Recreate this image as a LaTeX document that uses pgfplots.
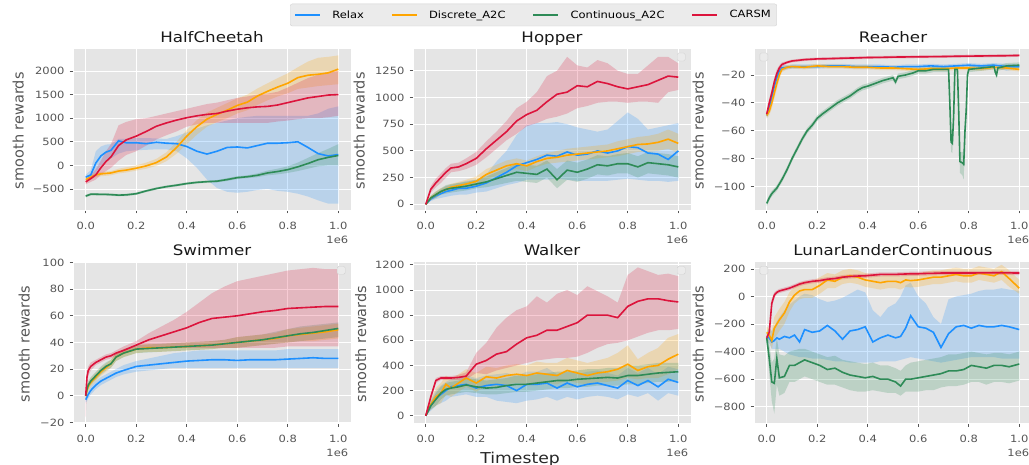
\documentclass[border=0pt]{standalone}
\usepackage{pgfplots}
\pgfplotsset{compat=1.18}
\usepackage{pgfplotstable}
\usepgfplotslibrary{fillbetween}
\usepackage{fontspec}
\setmainfont{DejaVu Sans}[FakeStretch=1.15]
\newfontfamily\plainfont{DejaVu Sans}
\definecolor{ggbg}{HTML}{E5E5E5}
\definecolor{ggtext}{HTML}{555555}
\definecolor{cRelax}{RGB}{30,144,255}
\definecolor{cDisc}{RGB}{255,165,0}
\definecolor{cCont}{RGB}{46,139,87}
\definecolor{cCarsm}{RGB}{220,20,60}
\definecolor{legfill}{HTML}{EBEBEB}
\definecolor{legedge}{HTML}{D2D2D2}
\newcommand\ticksize{\fontsize{10}{12}\selectfont}
\newcommand\titlesize{\fontsize{14.5}{16}\selectfont}
\newcommand\ylabfont{\plainfont\fontsize{14.5}{16}\selectfont}

% columns: x, Relax (b), Discrete (o), Continuous (g), CARSM (r); m=mean, l=low, h=high
\pgfplotstableread{
x bm bl bh om ol oh gm gl gh rm rl rh
0 -250 -300 -200 -300 -350 -250 -650 -680 -620 -350 -400 -300
0.02 -200 -280 -100 -250 -300 -200 -610 -640 -590 -280 -350 -200
0.04 50 -150 300 -200 -250 -160 -610 -640 -590 -200 -300 -80
0.06 200 0 400 -180 -230 -140 -615 -640 -590 -50 -200 100
0.08 280 80 440 -170 -220 -130 -615 -640 -590 80 -120 300
0.10 320 150 450 -160 -210 -120 -620 -645 -595 180 -50 450
0.13 520 250 560 -120 -170 -70 -630 -655 -605 420 100 850
0.16 480 300 560 -100 -150 -40 -625 -650 -600 540 220 920
0.20 480 320 580 -60 -110 0 -600 -625 -575 620 300 980
0.24 460 330 580 -10 -70 60 -540 -565 -515 720 420 1000
0.28 490 340 570 60 -10 140 -490 -515 -465 830 550 1050
0.32 470 340 560 180 90 280 -450 -475 -425 900 640 1100
0.36 460 300 620 380 250 500 -420 -445 -395 960 720 1150
0.40 400 150 700 620 450 750 -385 -410 -360 1010 820 1200
0.44 300 -50 780 820 650 960 -360 -385 -335 1050 870 1250
0.48 240 -300 850 980 820 1120 -345 -370 -320 1080 900 1300
0.52 300 -480 900 1080 920 1220 -335 -360 -310 1100 900 1330
0.56 380 -560 950 1170 1000 1320 -300 -330 -270 1150 900 1380
0.60 390 -580 1000 1270 1100 1420 -260 -290 -230 1190 900 1430
0.64 370 -560 1030 1340 1170 1500 -240 -270 -210 1220 900 1460
0.68 420 -520 1050 1470 1280 1630 -210 -250 -170 1240 900 1500
0.72 470 -500 1050 1570 1380 1740 -160 -210 -110 1250 900 1520
0.76 470 -540 1050 1660 1460 1850 -130 -190 -70 1280 930 1560
0.80 480 -560 1050 1740 1530 1950 -90 -160 -20 1330 950 1650
0.84 500 -600 1050 1860 1620 2080 -30 -120 60 1380 980 1750
0.88 380 -660 1050 1910 1650 2200 40 -70 160 1430 1000 1850
0.92 250 -740 1100 1930 1680 2280 120 -20 260 1460 1000 1920
0.96 200 -810 1200 1960 1700 2300 170 0 350 1490 1020 1980
1.00 230 -810 1250 2040 1720 2330 210 0 450 1500 1050 2000
}\cheetah

\pgfplotstableread{
x bm bl bh om ol oh gm gl gh rm rl rh
0 0 0 0 0 0 0 0 0 0 0 0 0
0.02 50 30 70 60 40 80 60 40 80 140 110 170
0.04 80 50 110 90 60 120 90 60 120 200 160 240
0.06 100 60 140 120 90 150 120 90 150 250 200 290
0.08 120 70 170 140 110 170 140 100 180 300 250 340
0.10 130 80 180 160 130 190 150 110 190 340 300 380
0.13 150 90 200 175 140 210 160 120 200 350 310 390
0.16 150 90 220 190 150 230 170 130 210 380 330 430
0.20 170 110 230 215 170 260 190 150 230 430 370 490
0.24 200 120 280 280 230 330 210 160 260 520 440 590
0.28 250 150 400 320 270 370 240 180 300 600 520 680
0.32 300 180 500 360 310 410 270 200 340 680 600 780
0.36 360 200 650 380 330 430 300 220 380 780 660 900
0.40 390 230 740 360 310 410 290 210 370 840 730 960
0.44 420 230 760 400 350 450 280 200 360 880 760 1050
0.48 460 230 760 430 380 480 330 250 410 960 800 1200
0.52 450 240 770 440 390 500 230 150 330 1030 820 1250
0.56 490 230 750 460 400 520 320 230 410 1050 850 1380
0.60 460 220 720 470 410 530 300 210 390 1110 900 1300
0.64 470 220 700 480 420 540 330 240 420 1100 920 1280
0.68 500 220 680 490 430 550 370 280 460 1150 950 1350
0.72 480 220 700 500 440 560 360 270 450 1130 960 1320
0.76 500 230 780 520 450 590 380 290 470 1100 960 1250
0.80 540 240 860 540 470 610 380 290 480 1080 950 1220
0.84 530 230 800 560 490 630 350 250 450 1100 960 1220
0.88 480 220 700 565 490 640 390 290 490 1120 960 1300
0.92 470 220 720 580 500 660 380 280 480 1160 950 1380
0.96 420 210 740 610 520 700 370 270 470 1200 1050 1380
1.00 500 220 760 570 480 660 350 250 450 1190 1070 1320
}\hopper

\pgfplotstableread{
x bm bl bh om ol oh rm rl rh
0 -49 -51 -47 -49 -51 -47 -48 -50 -46
0.01 -44 -47 -41 -46 -49 -43 -40 -43 -37
0.02 -36 -40 -32 -40 -44 -36 -33 -36 -30
0.03 -28 -32 -24 -33 -37 -29 -25 -28 -22
0.04 -22 -26 -18 -26 -30 -22 -19 -22 -16
0.05 -17 -20 -14 -20 -23 -17 -15 -17 -13
0.06 -15 -17 -13 -16 -18 -14 -12.5 -14 -11
0.08 -14.5 -16 -13 -14.5 -16 -13 -11 -12 -10
0.10 -14 -15.5 -12.5 -14 -15.5 -12.5 -10 -11 -9
0.15 -14 -15.5 -12.5 -14.5 -16 -13 -9 -10 -8
0.20 -14 -15.5 -12.5 -13.5 -15 -12 -8.5 -9.5 -7.5
0.25 -13.5 -15 -12 -14 -15.5 -12.5 -8.3 -9.3 -7.3
0.30 -13.5 -15 -12 -14 -15.5 -12.5 -8 -9 -7
0.35 -14 -15.5 -12.5 -14.5 -16 -13 -7.8 -8.8 -6.8
0.40 -14 -15.5 -12.5 -14.5 -16 -13 -7.5 -8.5 -6.5
0.45 -14 -15.5 -12.5 -15 -16.5 -13.5 -7.4 -8.4 -6.4
0.50 -14.5 -16 -13 -15 -16.5 -13.5 -7.2 -8.2 -6.2
0.55 -14 -15.5 -12.5 -15.5 -17 -14 -7.1 -8.1 -6.1
0.60 -14 -15.5 -12.5 -16 -17.5 -14.5 -7 -8 -6
0.65 -13.5 -15 -12 -15.5 -17 -14 -6.9 -7.9 -5.9
0.70 -14 -15.5 -12.5 -15.5 -17 -14 -6.8 -7.8 -5.8
0.75 -13.5 -15 -12 -15 -16.5 -13.5 -6.6 -7.6 -5.6
0.80 -13 -14.5 -11.5 -15 -16.5 -13.5 -6.5 -7.5 -5.5
0.85 -13.5 -15 -12 -15.5 -17 -14 -6.4 -7.4 -5.4
0.90 -13 -14.5 -11.5 -14.5 -16 -13 -6.3 -7.3 -5.3
0.95 -14 -17 -12 -15 -16.5 -13.5 -6.2 -7.2 -5.2
1.00 -14 -15.5 -12.5 -16 -17.5 -14.5 -6 -7 -5
}\reacher

\pgfplotstableread{
x gm gl gh
0 -112 -114 -110
0.01 -108 -110 -106
0.02 -105 -107 -103
0.04 -101 -103 -99
0.06 -95 -97 -93
0.08 -88 -90 -86
0.10 -80 -82 -78
0.12 -73 -75 -71
0.14 -66 -68 -64
0.16 -60 -62 -58
0.18 -56 -58 -54
0.20 -51 -53 -49
0.22 -48 -50 -46
0.25 -44 -46 -42
0.28 -40 -42 -38
0.30 -38 -40 -36
0.33 -35 -37 -33
0.36 -31 -33 -29
0.38 -29 -31 -27
0.40 -28 -30 -26
0.43 -26 -28 -24
0.46 -24 -26 -22
0.50 -22 -24 -20
0.51 -25 -27 -23
0.52 -21 -23 -19
0.55 -20 -22 -18
0.58 -18.5 -20.5 -16.5
0.60 -17 -19 -15
0.63 -17 -19 -15
0.66 -16 -18 -14
0.70 -16 -18 -14
0.72 -16 -18 -14
0.725 -40 -45 -35
0.73 -68 -75 -62
0.735 -69 -76 -62
0.74 -50 -55 -45
0.745 -16 -18 -14
0.755 -16 -18 -14
0.76 -45 -50 -40
0.765 -82 -90 -75
0.775 -83 -92 -75
0.78 -84 -95 -75
0.785 -60 -66 -54
0.79 -45 -50 -40
0.795 -20 -23 -17
0.80 -16 -18 -14
0.85 -15 -17 -13
0.90 -14 -16 -12
0.905 -18 -20 -16
0.91 -20 -22 -18
0.915 -15 -17 -13
0.95 -13.5 -15.5 -11.5
1.00 -13 -15 -11
}\reacherg

\pgfplotstableread{
x bm bl bh om ol oh gm gl gh rm rl rh
0 -3 -5 -1 0 -2 2 0 -2 2 0 -16 4
0.005 -1 -4 2 4 1 7 5 2 8 14 8 18
0.01 1 -2 4 7 4 10 8 5 11 19 15 22
0.02 4 1 7 10 7 13 11 8 14 22 19 25
0.04 8 5 11 14 11 17 15 12 18 25 23 27
0.06 11 8 14 18 15 21 19 16 22 27 25 29
0.08 13 10 16 21 18 24 22 19 25 29 27 31
0.10 15 12 18 24 21 27 24 21 27 30 28 32
0.12 17 14 20 29 26 32 29 26 32 32 30 34
0.15 19 16 23 32 29 35 32 29 35 34 32 37
0.20 22 18 26 35 32 38 35 32 38 38 35 41
0.25 23 19 28 36 33 39 35.5 32.5 38.5 42 36 47
0.30 24 20 30 36 33 39 36 33 39 45 36 52
0.35 25 21 32 36.5 33.5 39.5 36.5 33.5 39.5 48 36 57
0.40 26 21 33 37 34 40 37 34 40 51 36 63
0.45 26.5 21 34 37.5 34.5 40.5 37.5 34.5 40.5 55 36 70
0.50 27 21 34 38 35 41 38 35 41 58 36 77
0.55 27 21 34 39 36 42 39 36 42 59 36 82
0.60 26.5 21 34 40 36 44 40 36 44 60 36 86
0.65 27 21 34 41 37 45 41 37 45 61.5 36 88
0.70 27 21 34 42 38 46 42 38 46 63 36 90
0.75 27 21 34 43 39 47 43.5 39 48 64 36 92
0.80 27.5 21 35 45 40 50 45 40 50 65.5 37 94
0.85 28 21 35 46 41 51 46.5 41 52 66 37 95
0.90 28.5 21 35 47 41 52 47.5 42 53 66.5 37 96
0.95 28 21 35 48 42 53 49 43 54 67 37 95
1.00 28 21 35 49.5 43 54 50.5 44 55 67 37 95
}\swimmer

\pgfplotstableread{
x bm bl bh om ol oh gm gl gh rm rl rh
0 0 0 0 0 0 0 0 0 0 0 0 0
0.02 80 40 120 90 50 130 80 50 110 150 130 170
0.04 140 80 200 150 80 220 130 80 180 280 260 300
0.06 170 100 240 180 100 260 180 130 230 300 285 315
0.08 200 120 270 250 170 320 210 160 260 300 285 315
0.10 230 150 290 220 150 290 220 170 270 300 285 315
0.13 240 160 300 260 190 330 230 180 280 305 285 325
0.16 250 170 320 300 230 370 245 190 300 315 290 345
0.20 220 150 300 260 190 340 230 180 290 410 340 500
0.24 240 150 320 310 240 390 220 170 280 440 330 580
0.28 250 120 330 300 230 380 225 170 290 490 360 700
0.32 240 110 340 320 250 400 240 180 300 510 380 780
0.36 200 100 320 330 260 410 250 190 320 570 400 840
0.40 250 120 350 320 250 400 250 190 320 620 420 870
0.44 250 130 350 340 270 430 260 200 330 640 440 950
0.48 260 150 380 330 260 420 270 210 340 680 450 900
0.52 220 120 330 320 250 420 280 220 350 680 460 970
0.56 260 150 360 360 280 460 280 220 350 710 460 1000
0.60 230 130 330 340 260 440 290 230 360 740 470 960
0.64 250 150 350 320 250 420 295 230 370 800 500 1030
0.68 260 160 360 340 270 440 300 240 370 800 540 990
0.72 240 150 340 350 270 460 305 240 380 800 570 950
0.76 220 130 320 370 280 500 300 240 380 780 580 900
0.80 280 170 380 410 300 560 320 250 400 870 600 1120
0.84 240 150 340 360 290 450 320 250 400 910 630 1180
0.88 280 180 380 390 300 500 330 260 410 930 660 1150
0.92 230 120 330 400 300 540 340 270 420 930 680 1120
0.96 290 180 390 450 330 620 345 270 420 915 680 1130
1.00 265 160 370 490 370 650 350 280 420 905 690 1110
}\walker

\pgfplotstableread{
x bm bl bh om ol oh gm gl gh rm rl rh
0 -290 -330 -250 -260 -300 -220 -300 -340 -260 -300 -320 -280
0.01 -300 -340 -240 -280 -330 -230 -450 -560 -340 -260 -285 -235
0.02 -330 -380 -250 -320 -380 -250 -620 -760 -480 -50 -80 -20
0.03 -320 -380 -220 -230 -300 -150 -630 -850 -450 10 -10 30
0.04 -300 -380 -180 -200 -280 -120 -450 -640 -300 30 15 45
0.05 -310 -380 -150 -170 -250 -90 -590 -720 -420 40 25 55
0.07 -290 -400 -100 -120 -200 -40 -580 -700 -430 50 35 65
0.09 -300 -420 -60 -40 -110 30 -500 -620 -400 60 45 75
0.11 -280 -430 -30 10 -50 70 -500 -620 -390 75 60 90
0.13 -330 -440 0 40 -20 100 -480 -600 -380 90 75 105
0.15 -240 -440 20 50 -10 110 -460 -580 -380 100 85 115
0.18 -260 -450 10 50 -10 110 -480 -600 -400 110 95 125
0.21 -250 -450 -20 80 20 140 -500 -620 -420 115 100 130
0.24 -210 -460 -40 120 60 170 -530 -640 -440 125 110 140
0.27 -250 -470 -30 110 60 160 -520 -640 -430 130 115 145
0.30 -310 -470 -10 140 90 190 -550 -660 -460 140 125 155
0.33 -250 -480 20 150 100 200 -570 -680 -470 145 130 160
0.36 -240 -480 50 140 90 190 -580 -690 -480 148 133 163
0.39 -220 -480 30 120 70 170 -590 -690 -490 150 135 165
0.42 -330 -480 -100 110 60 160 -580 -680 -480 155 140 170
0.45 -300 -470 -150 100 50 150 -600 -690 -500 160 145 175
0.48 -280 -470 -80 110 60 160 -600 -700 -500 160 145 175
0.51 -300 -470 -50 110 60 160 -620 -700 -520 160 145 175
0.53 -290 -460 0 100 50 150 -650 -720 -540 162 147 177
0.55 -230 -450 80 120 70 170 -600 -690 -500 163 148 178
0.57 -140 -440 100 115 65 165 -600 -690 -480 165 150 180
0.60 -220 -450 0 120 70 170 -590 -690 -470 165 150 180
0.63 -230 -460 -50 130 80 180 -580 -680 -460 167 152 182
0.66 -260 -470 -150 140 90 190 -570 -680 -450 168 153 183
0.69 -370 -480 -200 140 90 190 -560 -660 -440 170 155 185
0.72 -270 -470 -20 150 100 200 -540 -650 -420 170 155 185
0.75 -220 -460 0 160 110 210 -540 -650 -420 170 155 185
0.78 -210 -450 10 150 100 200 -530 -640 -410 170 155 185
0.81 -230 -440 20 150 100 200 -500 -620 -400 170 155 185
0.84 -210 -440 40 170 120 220 -510 -620 -410 171 156 186
0.87 -220 -440 50 160 110 210 -520 -640 -420 171 156 186
0.90 -220 -440 50 150 100 200 -500 -620 -410 172 157 187
0.93 -210 -450 60 180 120 230 -500 -620 -410 172 157 187
0.96 -220 -450 50 130 70 190 -510 -630 -420 171 156 186
1.00 -240 -450 40 60 20 120 -490 -610 -400 170 155 185
}\lunar

\newcommand{\band}[3]{%
  \addplot[draw=none, forget plot, name path=#2h] table[x=x,y=#2h]{#1};
  \addplot[draw=none, forget plot, name path=#2l] table[x=x,y=#2l]{#1};
  \addplot[fill=#3, fill opacity=0.22, draw=none, forget plot] fill between[of=#2h and #2l];
}
\newcommand{\mline}[3]{\addplot[#3, line width=1.6pt] table[x=x,y=#2m]{#1};}
\newcommand{\allbands}[1]{\band{#1}{b}{cRelax}\band{#1}{o}{cDisc}\band{#1}{g}{cCont}\band{#1}{r}{cCarsm}}
\newcommand{\alllines}[1]{\mline{#1}{b}{cRelax}\mline{#1}{o}{cDisc}\mline{#1}{g}{cCont}\mline{#1}{r}{cCarsm}}
\newcommand{\oneesix}{\node[anchor=north east, inner sep=0pt, font=\ticksize, text=ggtext, xshift=-2.5pt, yshift=-26pt] at (rel axis cs:1,0) {1e6};}
\newcommand{\emptylegR}{\node[draw=legedge, fill=legfill, rounded corners=1.5pt, minimum size=8pt, inner sep=0pt, anchor=north east, xshift=-5.5pt, yshift=-4.5pt] at (rel axis cs:1,1) {};}
\newcommand{\emptylegL}{\node[draw=legedge, fill=legfill, rounded corners=1.5pt, minimum size=8pt, inner sep=0pt, anchor=north west, xshift=5.5pt, yshift=-4.5pt] at (rel axis cs:0,1) {};}

\pgfplotsset{
  ggaxis/.style={
    scale only axis, width=277.8pt, height=161.7pt, anchor=south west,
    xmin=-0.05, xmax=1.05, clip mode=individual,
    axis background/.style={fill=ggbg},
    axis line style={white, line width=0.8pt},
    grid=major, grid style={white, line width=0.9pt},
    tick align=outside, tick pos=left,
    major tick length=3.5pt,
    every tick/.style={ggtext, line width=0.8pt},
    xtick={0,0.2,0.4,0.6,0.8,1}, xticklabels={0.0,0.2,0.4,0.6,0.8,1.0},
    ticklabel style={font=\ticksize, text=ggtext, inner sep=0pt},
    xticklabel style={anchor=north, yshift=-8.5pt},
    yticklabel style={anchor=east, xshift=-5pt},
    /pgf/number format/assume math mode=true,
    title style={font=\titlesize, text=black!90, anchor=base, at={(0.5,1)}, yshift=0pt},
    every axis y label/.style={rotate=90, anchor=center, font=\ylabfont, text=ggtext},
    ylabel={smooth rewards},
  }
}

\begin{document}
\begin{tikzpicture}
% ---------- HalfCheetah
\begin{axis}[ggaxis, at={(73.1pt,255pt)}, title={HalfCheetah},
  ymin=-945, ymax=2481, ytick={-500,0,500,1000,1500,2000},
  yticklabels={−500,0,500,1000,1500,2000},
  ylabel style={at={(axis description cs:-0.198,0.49)}}]
\allbands{\cheetah}
\alllines{\cheetah}
\oneesix
\end{axis}
% ---------- Hopper (carries the figure legend)
\begin{axis}[ggaxis, at={(413.1pt,255pt)}, title={Hopper},
  ymin=-53, ymax=1460, ytick={0,250,500,750,1000,1250},
  yticklabels={0,250,500,750,1000,1250},
  ylabel style={at={(axis description cs:-0.194,0.49)}},
  legend columns=4,
  legend style={at={(axis description cs:0.4335,1.206)}, anchor=center,
    fill=legfill, draw=legedge, rounded corners=2pt, font=\ticksize,
    inner xsep=4pt, inner ysep=4.5pt,
    /tikz/every odd column/.append style={column sep=9.5pt},
    /tikz/every even column/.append style={column sep=25pt}},
  legend cell align=left,
  legend image code/.code={%
    \pgfsetlinewidth{1.6pt}\pgfsetstrokeopacity{1}%
    \draw[#1, line width=1.6pt, draw opacity=1] (0pt,0pt) -- (25pt,0pt);}]
\allbands{\hopper}
\alllines{\hopper}
\legend{Relax,Discrete\_A2C,Continuous\_A2C,CARSM}
\oneesix
\emptylegR
\end{axis}
% ---------- Reacher
\begin{axis}[ggaxis, at={(754.1pt,255pt)}, title={Reacher},
  ymin=-116.7, ymax=-0.9, ytick={-100,-80,-60,-40,-20},
  yticklabels={−100,−80,−60,−40,−20},
  ylabel style={at={(axis description cs:-0.2016,0.49)}}]
\band{\reacher}{b}{cRelax}\band{\reacher}{o}{cDisc}\band{\reacherg}{g}{cCont}\band{\reacher}{r}{cCarsm}
\mline{\reacher}{b}{cRelax}\mline{\reacher}{o}{cDisc}\mline{\reacherg}{g}{cCont}\mline{\reacher}{r}{cCarsm}
\oneesix
\emptylegL
\end{axis}
% ---------- Swimmer
\begin{axis}[ggaxis, at={(73.1pt,41.7pt)}, title={Swimmer},
  ymin=-20.7, ymax=100.7, ytick={-20,0,20,40,60,80,100},
  yticklabels={−20,0,20,40,60,80,100},
  ylabel style={at={(axis description cs:-0.176,0.49)}}]
\allbands{\swimmer}
\alllines{\swimmer}
\oneesix
\emptylegR
\end{axis}
% ---------- Walker
\begin{axis}[ggaxis, at={(413.1pt,41.7pt)}, title={Walker},
  ymin=-60, ymax=1226, ytick={0,200,400,600,800,1000,1200},
  yticklabels={0,200,400,600,800,1000,1200},
  ylabel style={at={(axis description cs:-0.189,0.49)}},
  xlabel={Timestep},
  xlabel style={at={(axis description cs:0.385,-0.222)}, anchor=center, font=\fontsize{15}{17}\selectfont, text=black!85}]
\allbands{\walker}
\alllines{\walker}
\oneesix
\emptylegR
\end{axis}
% ---------- LunarLanderContinuous
\begin{axis}[ggaxis, at={(754.1pt,41.7pt)}, title={LunarLanderContinuous},
  ymin=-920, ymax=253, ytick={-800,-600,-400,-200,0,200},
  yticklabels={−800,−600,−400,−200,0,200},
  ylabel style={at={(axis description cs:-0.2016,0.49)}}]
\allbands{\lunar}
\alllines{\lunar}
\oneesix
\emptylegL
\end{axis}
\pgfresetboundingbox
\useasboundingbox (0pt,0pt) rectangle (1029pt,465pt);
\end{tikzpicture}
\end{document}
